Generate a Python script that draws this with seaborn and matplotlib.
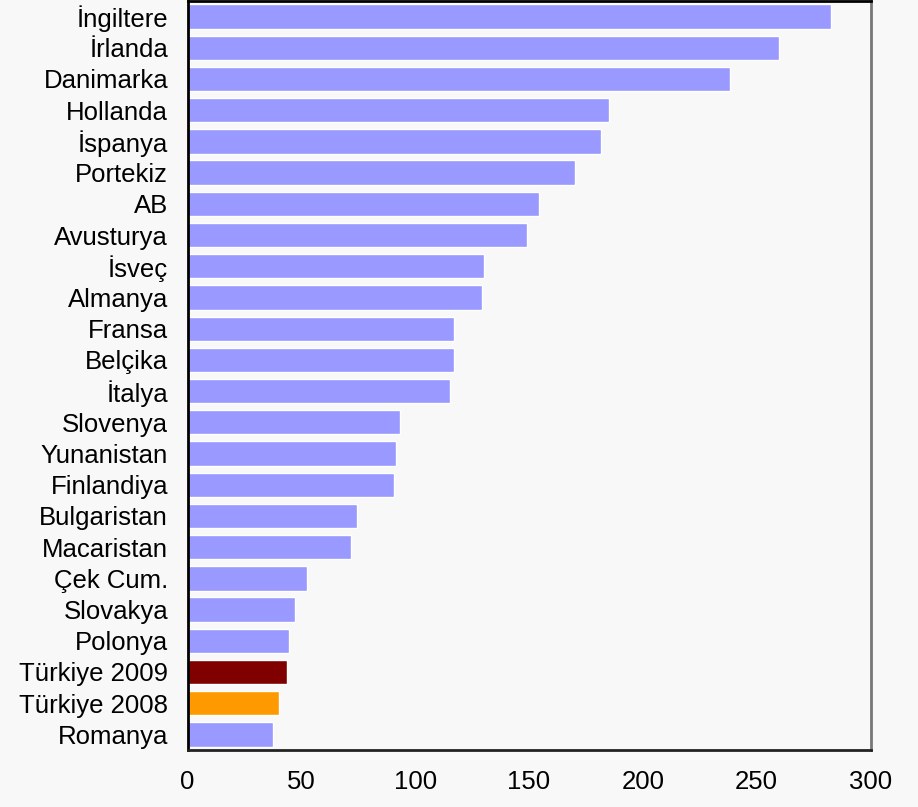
import matplotlib
matplotlib.use("Agg")
import matplotlib.pyplot as plt
import seaborn as sns
import pandas as pd
import numpy as np

countries = ["İngiltere", "İrlanda", "Danimarka", "Hollanda", "İspanya", "Portekiz", "AB",
             "Avusturya", "İsveç", "Almanya", "Fransa", "Belçika", "İtalya", "Slovenya",
             "Yunanistan", "Finlandiya", "Bulgaristan", "Macaristan", "Çek Cum.", "Slovakya",
             "Polonya", "Türkiye 2009", "Türkiye 2008", "Romanya"]
values = [282.6, 259.8, 238.3, 185.1, 181.6, 170.2, 154.4, 149.1, 130.2, 129.3, 117.0, 117.0,
          115.3, 93.3, 91.6, 90.7, 74.4, 71.8, 52.5, 47.2, 44.6, 43.7, 40.2, 37.5]
xticks = [0, 50, 100, 150, 200, 250, 300]

base_color = "#9999ff"
special = {"Türkiye 2009": "#800000", "Türkiye 2008": "#ff9900"}
palette = {c: special.get(c, base_color) for c in countries}

df = pd.DataFrame({"country": countries, "value": values})

sns.set_theme(style="white")
plt.rcParams["font.family"] = ["Liberation Sans", "DejaVu Sans"]

fig = plt.figure(figsize=(9.18, 8.07), dpi=100, facecolor="#f8f8f8")
ax = fig.add_axes([0.2043, 0.0706, 0.7440, 0.9282])
ax.set_facecolor("#f8f8f8")

sns.barplot(data=df, y="country", x="value", hue="country", palette=palette,
            order=countries, hue_order=countries, legend=False, width=0.78,
            saturation=1, ax=ax, orient="h")

ax.set_xlim(0, 300)
ax.set_ylim(len(countries) - 0.5, -0.5)
ax.set_xticks(xticks)
ax.set_xticklabels([str(t) for t in xticks])
ax.set_xlabel("")
ax.set_ylabel("")

# y ticks: labels centered, tick marks at category boundaries
ax.tick_params(axis="y", which="major", length=0, labelsize=18.5, pad=14, labelcolor="black")
ax.set_yticks(np.arange(-0.5, len(countries), 1.0), minor=True)
ax.tick_params(axis="y", which="minor", length=7, width=1.5, color="#333333", direction="out")
ax.tick_params(axis="x", which="major", length=7.5, width=1.5, color="#555555",
               direction="out", labelsize=18.5, pad=7, labelcolor="black")

for side, col, lw in [("top", "black", 2.0), ("left", "black", 2.0),
                      ("bottom", "#222222", 2.0), ("right", "#777777", 2.0)]:
    ax.spines[side].set_visible(True)
    ax.spines[side].set_color(col)
    ax.spines[side].set_linewidth(lw)

fig.savefig("out.png", dpi=100, facecolor=fig.get_facecolor())
